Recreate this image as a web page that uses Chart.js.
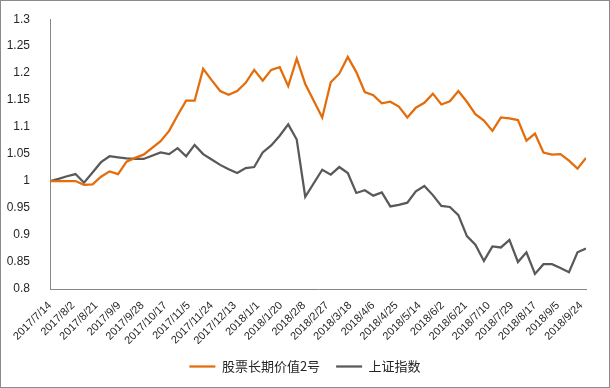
<!DOCTYPE html>
<html lang="zh">
<head>
  <meta charset="UTF-8" />
  <title>股票长期价值2号 vs 上证指数</title>
  <script src="https://cdn.jsdelivr.net/npm/chart.js"></script>
  <style>
    html, body { margin: 0; padding: 0; background: #fff; }
    #wrap { width: 610px; height: 388px; position: relative; }
  </style>
</head>
<body>
  <div id="wrap"><canvas id="navChart" width="610" height="388"></canvas></div>
  <script>
    // weekly dates (holiday weeks 2017/10/6 and 2018/2/16 have no data)
    const dates = [
      '2017/7/14', '2017/7/21', '2017/7/28', '2017/8/4', '2017/8/11', '2017/8/18', '2017/8/25',
      '2017/9/1', '2017/9/8', '2017/9/15', '2017/9/22', '2017/9/29', '2017/10/13', '2017/10/20',
      '2017/10/27', '2017/11/3', '2017/11/10', '2017/11/17', '2017/11/24', '2017/12/1', '2017/12/8',
      '2017/12/15', '2017/12/22', '2017/12/29', '2018/1/5', '2018/1/12', '2018/1/19', '2018/1/26',
      '2018/2/2', '2018/2/9', '2018/2/23', '2018/3/2', '2018/3/9', '2018/3/16', '2018/3/23',
      '2018/3/30', '2018/4/6', '2018/4/13', '2018/4/20', '2018/4/27', '2018/5/4', '2018/5/11',
      '2018/5/18', '2018/5/25', '2018/6/1', '2018/6/8', '2018/6/15', '2018/6/22', '2018/6/29',
      '2018/7/6', '2018/7/13', '2018/7/20', '2018/7/27', '2018/8/3', '2018/8/10', '2018/8/17',
      '2018/8/24', '2018/8/31', '2018/9/7', '2018/9/14', '2018/9/21', '2018/9/28'
    ];

    const fundValues = [
      1.000, 1.000, 1.000, 1.000, 0.993, 0.994, 1.008, 1.018, 1.013, 1.036, 1.043, 1.049,
      1.074, 1.093, 1.122, 1.149, 1.149, 1.208, 1.187, 1.167, 1.160, 1.167, 1.182, 1.206,
      1.186, 1.206, 1.211, 1.176, 1.227, 1.180,
      1.118, 1.183, 1.199, 1.230, 1.202, 1.165, 1.159, 1.144, 1.147, 1.138, 1.118, 1.136,
      1.145, 1.162, 1.142, 1.148, 1.167, 1.147, 1.124, 1.112, 1.093, 1.118, 1.116, 1.113,
      1.075, 1.088, 1.053, 1.049, 1.050, 1.038, 1.023, 1.043
    ];

    const indexValues = [
      1.000, 1.004, 1.009, 1.013, 0.997, 1.016, 1.035, 1.046, 1.044, 1.042, 1.041, 1.041,
      1.053, 1.050, 1.061, 1.046, 1.067, 1.050, 1.040, 1.030, 1.022, 1.015, 1.024, 1.026,
      1.053, 1.066, 1.084, 1.105, 1.077, 0.971,
      1.021, 1.012, 1.026, 1.015, 0.978, 0.983, 0.973, 0.979, 0.953, 0.956, 0.960, 0.981,
      0.991, 0.974, 0.954, 0.952, 0.937, 0.898, 0.882, 0.852, 0.879, 0.877, 0.891, 0.850,
      0.868, 0.828, 0.846, 0.846, 0.839, 0.831, 0.868, 0.875
    ];

    // x axis labels (every 19 days, as in the Excel date axis)
    const xTickLabels = [
      '2017/7/14', '2017/8/2', '2017/8/21', '2017/9/9', '2017/9/28', '2017/10/17', '2017/11/5',
      '2017/11/24', '2017/12/13', '2018/1/1', '2018/1/20', '2018/2/8', '2018/2/27', '2018/3/18',
      '2018/4/6', '2018/4/25', '2018/5/14', '2018/6/2', '2018/6/21', '2018/7/10', '2018/7/29',
      '2018/8/17', '2018/9/5', '2018/9/24'
    ];

    const seriesNames = ['股票长期价值2号', '上证指数'];

    const dayOf = (s) => {
      const [y, m, d] = s.split('/').map(Number);
      return Math.round((Date.UTC(y, m - 1, d) - Date.UTC(2017, 6, 14)) / 86400000);
    };
    const tickLabelByDay = {};
    xTickLabels.forEach(l => { tickLabelByDay[dayOf(l)] = l; });

    const toPoints = (vals) => vals.map((v, i) => ({ x: dayOf(dates[i]), y: v }));

    const frame = {
      id: 'frame',
      afterDraw(chart) {
        const c = chart.ctx;
        c.save();
        c.strokeStyle = '#8a8a8a';
        c.lineWidth = 1;
        c.strokeRect(0.5, 0.5, chart.width - 1, chart.height - 1);
        c.restore();
      }
    };

    new Chart(document.getElementById('navChart'), {
      type: 'line',
      data: {
        datasets: [
          {
            label: seriesNames[0],
            data: toPoints(fundValues),
            borderColor: '#E46C0A',
            backgroundColor: '#E46C0A',
            borderWidth: 2.25,
            pointRadius: 0,
            tension: 0
          },
          {
            label: seriesNames[1],
            data: toPoints(indexValues),
            borderColor: '#595959',
            backgroundColor: '#595959',
            borderWidth: 2.25,
            pointRadius: 0,
            tension: 0
          }
        ]
      },
      options: {
        responsive: false,
        animation: false,
        devicePixelRatio: 1,
        layout: { padding: { top: 10, right: 0, left: 0, bottom: 5 } },
        scales: {
          x: {
            type: 'linear',
            min: 0,
            max: dayOf('2018/9/28'),
            grid: { display: false },
            border: { display: true, color: '#868686', width: 1 },
            afterBuildTicks: (axis) => {
              axis.ticks = xTickLabels.map(l => ({ value: dayOf(l) }));
            },
            afterFit: (axis) => { axis.height = 55; },
            ticks: {
              autoSkip: false,
              minRotation: 45,
              maxRotation: 45,
              padding: 2,
              color: '#262626',
              font: { family: 'Liberation Sans', size: 11 },
              callback: (v) => tickLabelByDay[v] || ''
            }
          },
          y: {
            min: 0.8,
            max: 1.3,
            grid: { display: false },
            border: { display: true, color: '#868686', width: 1 },
            afterFit: (axis) => { axis.width = 50; },
            ticks: {
              stepSize: 0.05,
              padding: 12,
              color: '#262626',
              font: { family: 'Liberation Sans', size: 12 },
              callback: (v) => String(Number(v.toFixed(2)))
            }
          },
          // empty right-hand spacer so the legend centres on the full width
          spacer: {
            position: 'right',
            display: true,
            grid: { display: false },
            border: { display: false },
            ticks: { display: false },
            afterFit: (axis) => { axis.width = 24; }
          }
        },
        plugins: {
          legend: {
            position: 'bottom',
            labels: {
              usePointStyle: true,
              pointStyle: 'line',
              pointStyleWidth: 26,
              padding: 16,
              color: '#262626',
              font: { family: '"Noto Sans CJK SC", sans-serif', size: 13 }
            }
          },
          tooltip: { enabled: false }
        }
      },
      plugins: [frame]
    });
  </script>
</body>
</html>
